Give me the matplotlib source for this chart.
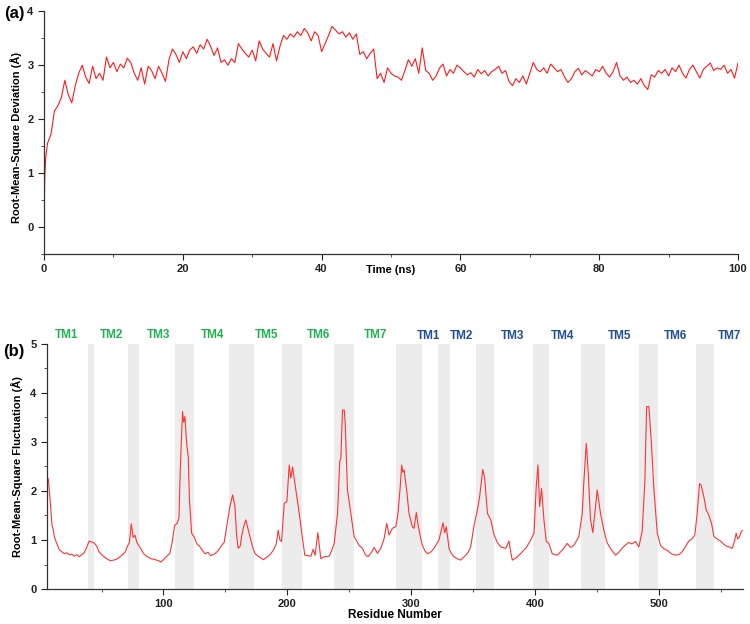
import numpy as np
import matplotlib
matplotlib.use("Agg")
import matplotlib.pyplot as plt
from matplotlib.ticker import MultipleLocator
import matplotlib.transforms as mtransforms

plt.rcParams['font.family'] = ['Liberation Sans', 'DejaVu Sans']
plt.rcParams['font.weight'] = 'bold'

# === (a) RMSD vs time ===
rmsd_start_t = [0.0, 0.1, 0.25]
rmsd_start_v = [0.0, 0.9, 1.3]
# values every 0.5 ns from 0.5 to 100 ns
rmsd_vals = [
    1.55, 1.72, 2.15, 2.25, 2.40, 2.72, 2.45, 2.30, 2.62, 2.85,
    3.00, 2.78, 2.66, 2.98, 2.75, 2.85, 2.72, 3.15, 2.95, 3.05,
    2.88, 3.02, 2.95, 3.13, 3.05, 2.85, 2.72, 2.95, 2.65, 2.98,
    2.90, 2.75, 2.98, 2.85, 2.70, 3.10, 3.30, 3.20, 3.05, 3.25,
    3.12, 3.28, 3.34, 3.22, 3.38, 3.30, 3.48, 3.35, 3.18, 3.32,
    3.05, 3.10, 3.00, 3.12, 3.05, 3.40, 3.30, 3.22, 3.15, 3.28,
    3.08, 3.45, 3.30, 3.22, 3.15, 3.40, 3.08, 3.35, 3.55, 3.48,
    3.58, 3.52, 3.62, 3.55, 3.68, 3.60, 3.45, 3.62, 3.55, 3.25,
    3.40, 3.55, 3.72, 3.65, 3.58, 3.62, 3.52, 3.60, 3.48, 3.58,
    3.20, 3.25, 3.12, 3.22, 3.30, 2.75, 2.85, 2.68, 2.95, 2.85,
    2.80, 2.78, 2.72, 2.90, 3.10, 2.98, 3.12, 2.85, 3.32, 2.90,
    2.85, 2.72, 2.80, 2.95, 3.02, 2.80, 2.92, 2.85, 3.00, 2.95,
    2.88, 2.82, 2.86, 2.78, 2.92, 2.84, 2.90, 2.80, 2.88, 2.92,
    2.98, 2.85, 2.90, 2.70, 2.62, 2.75, 2.68, 2.80, 2.65, 2.85,
    3.05, 2.92, 2.88, 2.95, 2.85, 3.02, 2.95, 2.88, 2.92, 2.78,
    2.68, 2.75, 2.88, 2.94, 2.82, 2.90, 2.85, 2.80, 2.92, 2.88,
    2.98, 2.85, 2.78, 2.88, 3.05, 2.80, 2.72, 2.78, 2.68, 2.72,
    2.65, 2.75, 2.62, 2.55, 2.82, 2.78, 2.90, 2.85, 2.92, 2.80,
    2.95, 2.88, 3.00, 2.85, 2.76, 2.92, 3.00, 2.88, 2.76, 2.92,
    2.98, 3.04, 2.90, 2.95, 2.92, 3.00, 2.85, 2.92, 2.76, 3.04,
]
rmsd_t = np.concatenate([rmsd_start_t, 0.5 * np.arange(1, len(rmsd_vals) + 1)])
rmsd_v = np.concatenate([rmsd_start_v, rmsd_vals])

# === (b) RMSF per residue ===
rmsf_res = [
    7, 8.5, 10, 11, 12, 14, 16, 18, 20, 22, 24, 26, 28, 30, 32, 34, 36, 38, 40, 42,
    44, 46, 48, 51, 54, 57, 60, 63, 66, 69, 71, 72.5, 74, 75.5, 77, 78.5, 81, 84, 87, 90,
    93, 96, 98, 100, 103, 105, 107, 109, 111, 112.5, 113.5, 114.6, 115.4, 116.3, 117.3, 118.7, 120, 121, 122.7, 125,
    127, 129, 131, 133.5, 136, 138, 141.5, 144, 147, 149, 151, 153.6, 155.8, 157.7, 159, 160.3, 162, 163, 165, 166.5,
    168, 169.8, 172, 174, 177, 180.5, 183, 186, 188.6, 191, 192.6, 194, 195.3, 197.5, 199.6, 201.5, 202.8, 204.2, 206.9, 209.6,
    212.2, 214.1, 217, 219, 220.8, 222.4, 224.6, 227, 230, 233.8, 236, 237.8, 239, 240.5, 242.3, 243.2, 244.5, 245.9, 246.7, 248.5,
    251.2, 253.9, 256, 257.9, 260.6, 263, 265.1, 268, 270, 272.7, 275.4, 278.1, 280.2, 282.1, 284.8, 287.5, 289.3, 291, 292.3, 293.2,
    294.2, 296.3, 298.2, 300.9, 302.3, 304.1, 305.8, 307.5, 309, 311, 313, 316, 318.4, 322.4, 325.6, 327, 328.3, 330.5, 332.5, 334.5,
    337, 339.9, 342, 344, 346, 348, 350.7, 353.4, 355.3, 357.7, 359.3, 361.5, 364.2, 366.9, 369.5, 372.2, 376.3, 378.9, 380.3, 381.6,
    385, 389.7, 393, 396.4, 399.1, 400.9, 402.3, 403.6, 405.2, 407.1, 409, 411.1, 413.8, 417.8, 421.8, 425.9, 428.5, 431.3, 435.3, 438,
    439.4, 441.3, 442.9, 444.7, 446.6, 448.2, 450.1, 452.8, 455.5, 458, 460.8, 464.9, 467.5, 470.2, 473, 475.6, 478, 481, 483.7, 486.4,
    488.6, 490, 491.8, 493.7, 495.9, 498.6, 501.2, 504, 506.6, 510, 513.3, 516, 518.7, 521, 524.1, 526.5, 528.9, 530.8, 532.7, 534,
    536.2, 538.1, 539.7, 542.4, 544.3, 547, 549.6, 552, 554, 556.4, 559.1, 561, 562.3, 563.5, 565, 566.5, 568,
]
rmsf_val = [
    2.25, 1.82, 1.30, 1.22, 1.05, 0.92, 0.80, 0.76, 0.72, 0.74, 0.70, 0.71, 0.67, 0.70, 0.66, 0.70, 0.74, 0.85, 0.98, 0.96,
    0.94, 0.88, 0.76, 0.68, 0.62, 0.58, 0.59, 0.62, 0.68, 0.75, 0.88, 0.95, 1.33, 1.05, 1.10, 0.95, 0.85, 0.72, 0.66, 0.62,
    0.60, 0.58, 0.55, 0.60, 0.68, 0.72, 0.95, 1.30, 1.34, 1.45, 2.40, 3.11, 3.62, 3.40, 3.52, 2.97, 2.70, 1.80, 1.14, 1.05,
    0.92, 0.88, 0.80, 0.72, 0.75, 0.68, 0.72, 0.78, 0.89, 0.95, 1.27, 1.68, 1.92, 1.68, 1.10, 0.83, 0.88, 1.07, 1.30, 1.41,
    1.25, 1.07, 0.85, 0.72, 0.66, 0.60, 0.64, 0.70, 0.79, 0.92, 1.20, 1.00, 0.97, 1.75, 1.78, 2.53, 2.26, 2.49, 2.02, 1.54,
    1.03, 0.69, 0.68, 0.67, 0.81, 0.69, 1.15, 0.62, 0.66, 0.67, 0.80, 0.93, 1.20, 1.54, 2.60, 2.67, 3.65, 3.65, 3.38, 2.02,
    1.54, 1.07, 0.98, 0.89, 0.83, 0.70, 0.66, 0.75, 0.85, 0.73, 0.83, 1.03, 1.34, 1.10, 1.24, 1.27, 1.54, 2.05, 2.53, 2.38,
    2.43, 2.02, 1.54, 1.27, 1.24, 1.56, 1.27, 1.05, 0.89, 0.78, 0.72, 0.76, 0.83, 1.00, 1.35, 1.15, 1.27, 0.83, 0.72, 0.66,
    0.62, 0.59, 0.64, 0.69, 0.75, 0.86, 1.30, 1.61, 1.90, 2.44, 2.26, 1.54, 1.41, 1.10, 0.95, 0.86, 0.83, 0.98, 0.75, 0.59,
    0.64, 0.76, 0.85, 1.00, 1.14, 2.09, 2.53, 1.68, 2.05, 1.41, 0.97, 0.93, 0.72, 0.69, 0.79, 0.93, 0.85, 0.89, 1.07, 1.54,
    2.22, 2.97, 2.36, 1.41, 1.15, 1.54, 2.02, 1.54, 1.20, 0.95, 0.83, 0.69, 0.75, 0.83, 0.90, 0.95, 0.92, 0.97, 0.86, 1.17,
    2.22, 3.72, 3.72, 3.04, 2.02, 1.14, 0.89, 0.82, 0.79, 0.72, 0.69, 0.70, 0.76, 0.85, 0.98, 1.02, 1.10, 1.54, 2.15, 2.12,
    1.88, 1.61, 1.54, 1.34, 1.07, 1.02, 0.98, 0.92, 0.88, 0.86, 0.83, 0.98, 1.14, 1.02, 1.07, 1.18, 1.20,
]

# shaded transmembrane segments (residue start, end)
tm_start = [39, 71, 109, 153, 196, 238, 288, 322, 352, 398, 437, 484, 530]
tm_end = [44, 80, 125, 173, 212, 254, 309, 331, 367, 411, 456, 499, 544]

tm_labels_1 = ["TM1", "TM2", "TM3", "TM4", "TM5", "TM6", "TM7"]
tm_pos_1 = [22, 58, 96, 140, 183, 225, 271]
tm_labels_2 = ["TM1", "TM2", "TM3", "TM4", "TM5", "TM6", "TM7"]
tm_pos_2 = [314, 341, 382, 422, 468, 513, 557]

fig = plt.figure(figsize=(7.5, 6.24), dpi=100)

# ---- panel (a) ----
ax1 = fig.add_axes([0.0587, 0.593, 0.9253, 0.389])
ax1.plot(rmsd_t, rmsd_v, color='#ff1a1a', lw=0.8)
ax1.set_xlim(0, 100)
ax1.set_ylim(-0.5, 4)
ax1.xaxis.set_major_locator(MultipleLocator(20))
ax1.xaxis.set_minor_locator(MultipleLocator(10))
ax1.yaxis.set_major_locator(MultipleLocator(1))
ax1.yaxis.set_minor_locator(MultipleLocator(0.5))
ax1.set_xlabel("Time (ns)", fontsize=8, fontweight='bold', va='top')
ax1.xaxis.set_label_coords(0.5, -0.045)
ax1.set_ylabel("Root-Mean-Square Deviation (Å)", fontsize=8, fontweight='bold')
ax1.yaxis.set_label_coords(-0.032, 0.48)

# ---- panel (b) ----
ax2 = fig.add_axes([0.0627, 0.056, 0.9283, 0.393])
for s, e in zip(tm_start, tm_end):
    ax2.axvspan(s, e, color='#ececec', lw=0, zorder=0)
ax2.plot(rmsf_res, rmsf_val, color='#ff3333', lw=0.8, zorder=2)
ax2.set_xlim(6, 568)
ax2.set_ylim(0, 5)
ax2.xaxis.set_major_locator(MultipleLocator(100))
ax2.xaxis.set_minor_locator(MultipleLocator(50))
ax2.yaxis.set_major_locator(MultipleLocator(1))
ax2.yaxis.set_minor_locator(MultipleLocator(0.5))
ax2.set_xlabel("Residue Number", fontsize=8.5, fontweight='bold', va='top')
ax2.xaxis.set_label_coords(0.5, -0.083)
ax2.set_ylabel("Root-Mean-Square Fluctuation (Å)", fontsize=8, fontweight='bold')
ax2.yaxis.set_label_coords(-0.035, 0.5)

trans = mtransforms.blended_transform_factory(ax2.transData, ax2.transAxes)
for lab, x in zip(tm_labels_1, tm_pos_1):
    ax2.text(x, 1.035, lab, transform=trans, ha='center', va='center',
             color='#1fb34f', fontsize=8.5, fontweight='bold', clip_on=False)
for lab, x in zip(tm_labels_2, tm_pos_2):
    ax2.text(x, 1.03, lab, transform=trans, ha='center', va='center',
             color='#1f4f96', fontsize=8.5, fontweight='bold', clip_on=False)

for ax in (ax1, ax2):
    for side in ('top', 'right'):
        ax.spines[side].set_visible(False)
    for side in ('left', 'bottom'):
        ax.spines[side].set_color('#333333')
        ax.spines[side].set_linewidth(0.9)
    ax.tick_params(which='major', direction='out', length=4, width=0.8,
                   labelsize=8, colors='#222222')
    ax.tick_params(which='minor', direction='out', length=2, width=0.6, colors='#333333')
    for lbl in ax.get_xticklabels() + ax.get_yticklabels():
        lbl.set_fontweight('bold')

fig.text(0.005, 0.979, "(a)", fontsize=12, fontweight='bold', va='center', ha='left')
fig.text(0.004, 0.436, "(b)", fontsize=12, fontweight='bold', va='center', ha='left')

fig.savefig("out.png", dpi=100)
